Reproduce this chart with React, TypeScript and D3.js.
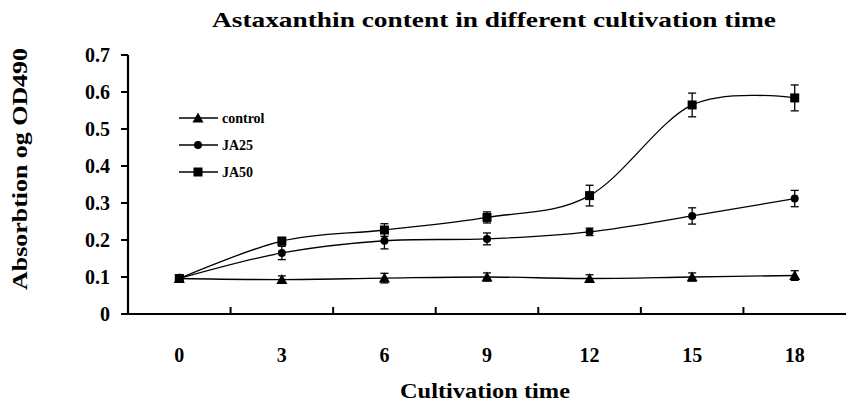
import * as d3 from "d3";
import React from "react";

const days = ["0", "3", "6", "9", "12", "15", "18"];
const control = [0.096, 0.093, 0.097, 0.1, 0.096, 0.1, 0.104];
const controlErr = [0.008, 0.01, 0.013, 0.011, 0.01, 0.011, 0.013];
const ja25 = [0.096, 0.165, 0.198, 0.203, 0.222, 0.265, 0.312];
const ja25Err = [0.008, 0.018, 0.022, 0.016, 0.01, 0.022, 0.022];
const ja50 = [0.096, 0.197, 0.227, 0.261, 0.32, 0.565, 0.584];
const ja50Err = [0.008, 0.01, 0.017, 0.015, 0.028, 0.032, 0.035];
const yTicks = [0, 0.1, 0.2, 0.3, 0.4, 0.5, 0.6, 0.7];
const seriesNames = ["control", "JA25", "JA50"];

const W = 846, H = 406;
const font = "Liberation Serif";

function Marker({ kind, x, y }: { kind: string; x: number; y: number }) {
    if (kind === "control") {
        const s = 5.5;
        return <path d={`M${x},${y - s}L${x + s},${y + s * 0.8}L${x - s},${y + s * 0.8}Z`} fill="#000" />;
    }
    if (kind === "JA25") return <circle cx={x} cy={y} r={4} fill="#000" />;
    return <rect x={x - 4.5} y={y - 4.5} width={9} height={9} fill="#000" />;
}

export default function App() {
    const x = d3.scaleBand().domain(days).range([128, 846]).padding(0);
    const y = d3.scaleLinear().domain([0, 0.7]).range([314, 55]);
    const cx = (d: string) => (x(d) as number) + x.bandwidth() / 2;

    const line = d3.line<number>()
        .x((_, i) => cx(days[i]))
        .y((v) => y(v))
        .curve(d3.curveCatmullRom.alpha(0));

    const series = [
        { name: "control", vals: control, err: controlErr },
        { name: "JA25", vals: ja25, err: ja25Err },
        { name: "JA50", vals: ja50, err: ja50Err },
    ];

    return (
        <svg width={W} height={H} style={{ position: "absolute", left: 0, top: 0, background: "#fff", fontFamily: font, fontWeight: "bold" }}>
            <rect width={W} height={H} fill="#fff" />
            <text x={494} y={27} fontSize={21} textAnchor="middle" textLength={564} lengthAdjust="spacingAndGlyphs">
                Astaxanthin content in different cultivation time
            </text>

            {/* y axis */}
            <line x1={128} x2={128} y1={y(0.7)} y2={y(0) + 1} stroke="#000" strokeWidth={2.2} />
            {yTicks.map((t) => (
                <g key={t}>
                    <line x1={121} x2={128} y1={y(t)} y2={y(t)} stroke="#000" strokeWidth={2} />
                    <text x={110} y={y(t) + 7} fontSize={20} textAnchor="end">{t === 0 ? "0" : t.toFixed(1)}</text>
                </g>
            ))}
            <text transform={`translate(27,${169}) rotate(-90)`} fontSize={20} textAnchor="middle"
                textLength={242} lengthAdjust="spacingAndGlyphs">Absorbtion og OD490</text>

            {/* x axis */}
            <line x1={127} x2={846} y1={y(0)} y2={y(0)} stroke="#000" strokeWidth={2.2} />
            {days.slice(1).map((d) => (
                <line key={d} x1={x(d) as number} x2={x(d) as number} y1={y(0)} y2={y(0) - 7} stroke="#000" strokeWidth={2} />
            ))}
            {days.map((d) => (
                <text key={d} x={cx(d)} y={362} fontSize={20} textAnchor="middle">{d}</text>
            ))}
            <text x={485} y={398} fontSize={21} textAnchor="middle" textLength={170} lengthAdjust="spacingAndGlyphs">Cultivation time</text>

            {/* series */}
            {series.map((s) => (
                <g key={s.name}>
                    <path d={line(s.vals) as string} fill="none" stroke="#000" strokeWidth={1.3} />
                    {s.vals.map((v, i) => {
                        const px = cx(days[i]);
                        const e = s.err[i];
                        return (
                            <g key={i}>
                                <line x1={px} x2={px} y1={y(v + e)} y2={y(v - e)} stroke="#000" strokeWidth={1.3} />
                                <line x1={px - 4} x2={px + 4} y1={y(v + e)} y2={y(v + e)} stroke="#000" strokeWidth={1.3} />
                                <line x1={px - 4} x2={px + 4} y1={y(v - e)} y2={y(v - e)} stroke="#000" strokeWidth={1.3} />
                                <Marker kind={s.name} x={px} y={y(v)} />
                            </g>
                        );
                    })}
                </g>
            ))}

            {/* legend */}
            {seriesNames.map((n, i) => {
                const ly = 118 + i * 27;
                return (
                    <g key={n}>
                        <line x1={179} x2={218} y1={ly} y2={ly} stroke="#000" strokeWidth={1.3} />
                        <Marker kind={n} x={198} y={ly} />
                        <text x={222} y={ly + 5} fontSize={14}>{n}</text>
                    </g>
                );
            })}
        </svg>
    );
}
